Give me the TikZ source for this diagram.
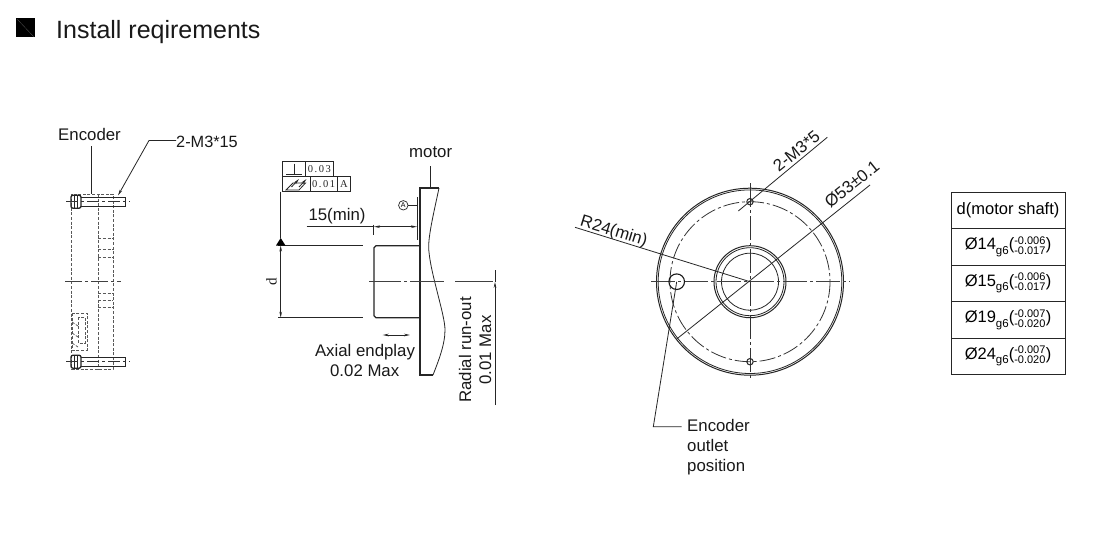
\documentclass[tikz,border=0pt]{standalone}
\usepackage{fontspec}
\setmainfont{Liberation Sans}
\newfontfamily\serifface{Liberation Serif}
\newfontfamily\tolface[LetterSpace=15]{Liberation Serif}
\usetikzlibrary{arrows.meta}
\newcommand{\fsz}[1]{\fontsize{#1}{#1}\selectfont}
\newcommand{\tolrow}[3]{{\fsz{16.5}Ø#1}\raisebox{-4.5pt}{\fsz{11.5}g6}{\fsz{16.5}(}$\vcenter{\offinterlineskip\hbox{\fsz{11}\vphantom{0}#2}\vskip2.4pt\hbox{\fsz{11}\vphantom{0}#3}}$\kern.3pt{\fsz{16.5})}}
\tikzset{
  lbl/.style={font=\fsz{16.8},inner sep=0pt,anchor=base,text=black!90},
  thin line/.style={line width=0.8pt,draw=black!85},
  thick line/.style={line width=1.3pt,draw=black!85},
  hidden/.style={line width=0.8pt,draw=black!65,dash pattern=on 3pt off 1.6pt},
  axis/.style={line width=0.8pt,draw=black!80,dash pattern=on 17pt off 3pt on 3pt off 3pt},
  axisbold/.style={line width=1.1pt,draw=black!75,dash pattern=on 17pt off 3pt on 3pt off 3pt},
  tip/.style={-{Stealth[length=6pt,width=2.6pt]}},
  tips/.style={{Stealth[length=6pt,width=2.6pt]}-{Stealth[length=6pt,width=2.6pt]}},
  cell/.style={draw=black!85,line width=0.8pt,minimum width=114pt,minimum height=36.5pt,inner sep=0pt,font=\fsz{16.5},anchor=center},
  tolbox/.style={thin line},
  tolnum/.style={font=\tolface\fsz{10.5},inner sep=0pt,text=black!85,anchor=center},
}
\begin{document}
\begin{tikzpicture}[x=1pt,y=-1pt]
\path[use as bounding box,fill=white] (0,0) rectangle (1107,551);

% title
\fill[black] (16,18) rectangle (35,37.5);
\draw[white!35!black,line width=0.3pt] (17,19) -- (34,37);
\node[lbl,anchor=base west,font=\fsz{25}] (title) at (56,38) {Install reqirements};

% --- encoder side view
\draw[hidden] (71.7,194) rectangle (113,369);
\draw[hidden] (98.3,194) -- (98.3,369);
\foreach \yy in {238,249,257,293,300,307}
  \draw[hidden] (98.3,\yy) -- (113,\yy);
\draw[hidden] (72,313) rectangle (87,350);
\draw[hidden] (78,317) rectangle (85,343);
\draw[hidden] (72,322) -- (78,326) (72,333) -- (78,337) (72,343) -- (78,347);
\foreach \yc/\nm in {201.7/a,361.7/b}{
  \begin{scope}[shift={(0,\yc)}]
    \draw[thick line,rounded corners=2pt] (71,-6.5) rectangle (81,6.5);
    \draw[thin line] (77,-6.5) -- (77,6.5) (74,-6.5) -- (74,6.5);
    \draw[thin line] (81,-4.5) -- (125.5,-4.5) -- (125.5,4.5) -- (81,4.5);
    \draw[axis,dash pattern=on 12pt off 3pt on 3pt off 3pt] (66,0) -- (130,0);
  \end{scope}
}
\draw[axisbold] (65,281.7) -- (121,281.7);
\node[lbl] (enc) at (89.5,140) {Encoder};
\coordinate (encEnd) at (91.3,194);
\draw[thin line] (91.3,146) -- (encEnd);
\node[lbl,anchor=base west,font=\fsz{16.3}] (screw) at (176,147) {2-M3*15};
\coordinate (screwBend) at (149,140.5);
\coordinate (screwTip) at (118,195.5);
\draw[thin line,tip] (screw.west |- 0,140.5) -- (screwBend) -- (screwTip);

% --- motor section
\draw[thick line] (420,188) -- (439,188);
\draw[thin line] (439,188) .. controls (434,212) and (427,240) .. (429,252) .. controls (431,275) and (445,315) .. (445,330) .. controls (445,345) and (438,362) .. (433,375);
\draw[thick line] (433,375) -- (420,375);
\draw[line width=1.5pt,draw=black!85] (420,187.4) -- (420,375.6);
\draw[thick line] (417.5,197) -- (417.5,240);
% shaft
\draw[thick line] (420,245.7) -- (376,245.7) -- (374,247.7) -- (374,315.7) -- (376,317.7) -- (420,317.7);
% d dimension
\draw[thin line] (278,245.3) -- (363,245.3);
\draw[thin line] (278,317.7) -- (363,317.7);
\fill[black] (280.7,238) -- (285.5,245.5) -- (276,245.5) -- cycle;
\draw[thin line] (280.7,191.7) -- (280.7,238);
\draw[thin line,tips] (280.7,245.5) -- (280.7,317.7);
\node[lbl,rotate=90,font=\serifface\fsz{15}] (dlabel) at (276.5,282) {d};
% tolerance frame
\draw[tolbox] (282.7,161.7) rectangle (333.3,176.7);
\draw[tolbox] (305,161.7) -- (305,176.7);
\draw[tolbox] (282.7,176.7) rectangle (350.7,191.7);
\draw[tolbox] (310,176.7) -- (310,191.7);
\draw[tolbox] (337.3,176.7) -- (337.3,191.7);
\draw[thick line,line width=0.9pt] (286,174.7) -- (302,174.7) (294,163.5) -- (294,174.7);
\draw[thin line] (286,190) -- (293,183) -- (305.5,183) -- (299,190) -- cycle;
\draw[thin line,tip] (291.5,187) -- (299,179);
\draw[thin line,tip] (299,187) -- (306.5,179);
\node[tolnum] (t1) at (319.3,169.5) {0.03};
\node[tolnum] (t2) at (323.7,184.5) {0.01};
\node[tolnum,font=\serifface\fsz{10.5}] (t3) at (344,184.5) {A};
% datum
\node[draw=black!85,line width=0.7pt,circle,minimum size=9.5pt,inner sep=0pt,font=\fsz{7}] (datum) at (403.3,205.3) {A};
\coordinate (datumEnd) at (417,205.3);
\draw[thin line] (datum) -- (datumEnd);
% motor label
\node[lbl] (motor) at (430.7,157) {motor};
\draw[thin line] (430,166) -- (430,188);
% 15 min
\node[lbl] (fifteen) at (337,220) {15(min)};
\draw[thin line] (306.7,226.7) -- (374,226.7);
\draw[thin line,tips] (374,226.7) -- (417,226.7);
\draw[thin line] (373.7,224.5) -- (373.7,235);
% centre line
\draw[axisbold,dash pattern=on 32pt off 3pt on 3pt off 3pt on 34pt off 11pt on 38pt] (369,281.7) -- (496.5,281.7);
% radial
\draw[thin line] (495,270) -- (495,281.7);
\draw[thin line,tip] (495,405) -- (495,281.9);
\node[lbl,rotate=90] (radial) at (471,350) {Radial run-out};
\node[lbl,rotate=90] (radmax) at (491,350) {0.01 Max};
% axial
\draw[thin line,tips] (382.7,335) -- (410,335);
\node[lbl] (axial) at (365,356) {Axial endplay};
\node[lbl] (axmax) at (364.7,376) {0.02 Max};

% --- front view
\coordinate (C) at (750,281.7);
\draw[thin line,line width=1pt] (C) circle (93.5);
\draw[thin line] (C) circle (91.8);
\draw[thin line,line width=1pt] (C) circle (36);
\draw[thin line] (C) circle (34);
\draw[thin line] (C) circle (28.5);
\draw[axis,dash pattern=on 16pt off 3pt on 3pt off 3pt] (C) circle (80);
\draw[axisbold,dash pattern=on 24pt off 3pt on 3pt off 3pt] (651,281.7) -- (849.3,281.7);
\draw[axis,dash pattern=on 24pt off 3pt on 3pt off 3pt] (750,183) -- (750,380);
\draw[thin line,line width=1pt] (750,201.7) circle (3.2);
\draw[thin line,line width=1pt] (750,361.7) circle (3.2);
\node[draw=black!90,line width=1.1pt,circle,minimum size=15.6pt,inner sep=0pt] (outlet) at (676.7,281.7) {};
\coordinate (m3a) at (738.3,211);
\coordinate (m3b) at (827.3,137.3);
\draw[thin line] (m3a) -- (m3b);
\node[lbl,rotate=38.5] (m3) at (800,155.5) {2-M3*5};
\coordinate (phia) at (676.7,339);
\coordinate (phib) at (870,185);
\draw[thin line] (phia) -- (phib);
\node[lbl,rotate=38.6] (phi) at (855.5,188.5) {Ø53±0.1};
\coordinate (ra) at (575,227.3);
\draw[thin line] (ra) -- (C);
\node[lbl,rotate=-17] (rr) at (612.5,236) {R24(min)};
\coordinate (oa) at (653.3,426.7);
\coordinate (ob) at (681.7,426.7);
\draw[thin line] (outlet.center) -- (oa) -- (ob);
\node[lbl,anchor=base west] (o1) at (687,431) {Encoder};
\node[lbl,anchor=base west] (o2) at (687,451) {outlet};
\node[lbl,anchor=base west] (o3) at (687,471) {position};

% --- table
\node[cell] (c0) at (1008,210.3) {d(motor shaft)};
\node[cell] (c1) at (1008,246.7) {\tolrow{14}{-0.006}{-0.017}};
\node[cell] (c2) at (1008,283.2) {\tolrow{15}{-0.006}{-0.017}};
\node[cell] (c3) at (1008,319.7) {\tolrow{19}{-0.007}{-0.020}};
\node[cell] (c4) at (1008,356.2) {\tolrow{24}{-0.007}{-0.020}};
\end{tikzpicture}
\end{document}
